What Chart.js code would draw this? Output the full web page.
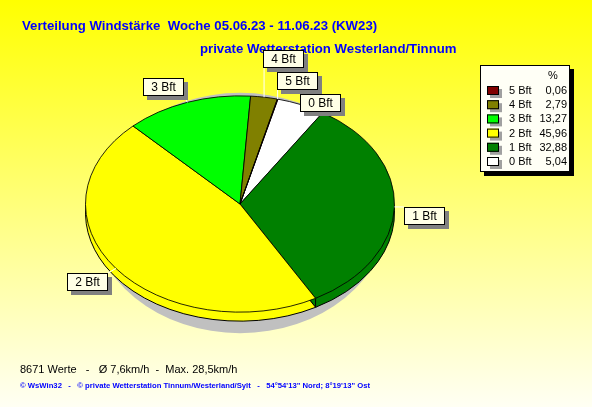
<!DOCTYPE html>
<html>
<head>
<meta charset="utf-8">
<script src="https://cdn.jsdelivr.net/npm/chart.js@4/dist/chart.umd.min.js"></script>
<style>
  html, body { margin: 0; padding: 0; }
  #wrap { width: 592px; height: 407px; position: relative; }
</style>
</head>
<body>
<div id="wrap"><canvas id="chart-1"></canvas></div>
<script>
// legend order (as in the original table)
const categories = ['5 Bft', '4 Bft', '3 Bft', '2 Bft', '1 Bft', '0 Bft'];
const percents = [0.06, 2.79, 13.27, 45.96, 32.88, 5.04];
const colors = ['#800000', '#808000', '#00FF00', '#FFFF00', '#008000', '#FFFFFF'];

const titleText = 'Verteilung Windstärke  Woche 05.06.23 - 11.06.23 (KW23)';
const subtitleText = 'private Wetterstation Westerland/Tinnum';
const footerText = '8671 Werte   -   Ø 7,6km/h  -  Max. 28,5km/h';
const creditText = '© WsWin32   -   © private Wetterstation Tinnum/Westerland/Sylt   -   54°54\'13" Nord; 8°19\'13" Ost';

const tilt = 0.70;   // vertical squash of the pie
const depth = 9;     // side height of the 3d pie

// pie runs clockwise 0 Bft ... 5 Bft
const pieLabels = categories.slice().reverse();
const pieValues = percents.slice().reverse();
const pieColors = colors.slice().reverse();

const fmt = v => v.toFixed(2).replace('.', ',');

const squash = (ctx, cx, cy) => {
  ctx.translate(cx, cy);
  ctx.scale(1, tilt);
  ctx.translate(-cx, -cy);
};

const pie3d = {
  id: 'pie3d',
  beforeDraw(chart) {
    const ctx = chart.ctx;
    const g = ctx.createLinearGradient(0, 0, 0, chart.height);
    g.addColorStop(0, '#FFFF00');
    g.addColorStop(1, '#FFFFF4');
    ctx.save();
    ctx.fillStyle = g;
    ctx.fillRect(0, 0, chart.width, chart.height);
    ctx.restore();
  },
  beforeDatasetsDraw(chart) {
    const ctx = chart.ctx;
    const meta = chart.getDatasetMeta(0);
    const a0 = meta.data[0];
    const cx = a0.x, cy = a0.y, r = a0.outerRadius;
    // shadow
    ctx.save();
    ctx.fillStyle = '#C0C0C0';
    ctx.beginPath();
    ctx.ellipse(cx, cy + depth, r * 0.96, r * tilt + 12, 0, 0, Math.PI * 2);
    ctx.fill();
    ctx.restore();
    // side: every slice once more, lowered by the depth
    ctx.save();
    ctx.lineWidth = 1;
    ctx.strokeStyle = '#000';
    meta.data.forEach((a, i) => {
      ctx.beginPath();
      ctx.moveTo(cx, cy + depth);
      ctx.ellipse(cx, cy + depth, r, r * tilt, 0, a.startAngle, a.endAngle);
      ctx.closePath();
      ctx.fillStyle = pieColors[i];
      ctx.fill();
      ctx.stroke();
    });
    // vertical edges on the visible side
    meta.data.forEach(a => {
      const s = a.startAngle;
      if (Math.sin(s) > 0) {
        const x = cx + r * Math.cos(s), y = cy + r * tilt * Math.sin(s);
        ctx.beginPath();
        ctx.moveTo(x, y);
        ctx.lineTo(x, y + depth);
        ctx.stroke();
      }
    });
    ctx.restore();
    // top face
    ctx.save();
    squash(ctx, cx, cy);
  },
  afterDatasetsDraw(chart) {
    chart.ctx.restore();
  },
  afterDraw(chart) {
    const ctx = chart.ctx;
    const meta = chart.getDatasetMeta(0);
    ctx.save();

    // titles
    ctx.fillStyle = '#0000FF';
    ctx.font = 'bold 13.2px "Liberation Sans", Arial, sans-serif';
    ctx.textBaseline = 'alphabetic';
    ctx.textAlign = 'left';
    ctx.fillText(titleText, 22, 30);
    ctx.fillText(subtitleText, 200, 53);

    // slice labels
    ctx.font = '12px "Liberation Sans", Arial, sans-serif';
    const items = meta.data.map((a, i) => {
      const m = (a.startAngle + a.endAngle) / 2;
      const dx = Math.cos(m), dy = Math.sin(m);
      const r = a.outerRadius;
      const ex = a.x + r * dx, ey = a.y + r * tilt * dy;
      const ax = a.x + (r + 10) * dx, ay = a.y + (r + 10) * tilt * dy;
      const w = Math.round(ctx.measureText(pieLabels[i]).width) + 16, h = 18;
      let left = dx >= 0 ? ax : ax - w;
      let top;
      if (dy > -0.3) top = ay;
      else if (dx >= 0) { top = ey - h / 2 - 2; left = ex - 1; }
      else top = ay - h;
      return { text: pieLabels[i], ex, ey, ay, x: Math.round(left), y: Math.round(top), w, h };
    });
    const placed = [];
    items.slice().sort((p, q) => q.ay - p.ay).forEach(b => {
      let moved = true;
      while (moved) {
        moved = false;
        for (const o of placed) {
          if (b.x < o.x + o.w && b.x + b.w > o.x && b.y < o.y + o.h + 4 && b.y + b.h + 4 > o.y) {
            b.y = o.y - 4 - b.h;
            moved = true;
          }
        }
      }
      placed.push(b);
    });
    items.forEach(b => {
      const nx = Math.min(Math.max(b.ex, b.x), b.x + b.w);
      const ny = Math.min(Math.max(b.ey, b.y), b.y + b.h);
      ctx.strokeStyle = '#FFFFFF';
      ctx.lineWidth = 1;
      ctx.beginPath();
      ctx.moveTo(b.ex, b.ey);
      ctx.lineTo(nx, ny);
      ctx.stroke();
    });
    items.forEach(b => {
      ctx.fillStyle = '#808080';
      ctx.fillRect(b.x + 4, b.y + 4, b.w, b.h);
      ctx.fillStyle = '#FFFFE6';
      ctx.fillRect(b.x, b.y, b.w, b.h);
      ctx.strokeStyle = '#000';
      ctx.strokeRect(b.x + 0.5, b.y + 0.5, b.w - 1, b.h - 1);
      ctx.fillStyle = '#000';
      ctx.textAlign = 'center';
      ctx.textBaseline = 'middle';
      ctx.fillText(b.text, b.x + b.w / 2, b.y + b.h / 2 + 1);
    });

    // legend box
    const lx = 480, ly = 65, lw = 90, lh = 107;
    ctx.fillStyle = '#000';
    ctx.fillRect(lx + 4, ly + 4, lw, lh);
    ctx.fillStyle = '#FFFFF6';
    ctx.fillRect(lx, ly, lw, lh);
    ctx.strokeStyle = '#000';
    ctx.strokeRect(lx + 0.5, ly + 0.5, lw - 1, lh - 1);
    ctx.font = '11px "Liberation Sans", Arial, sans-serif';
    ctx.fillStyle = '#000';
    ctx.textAlign = 'center';
    ctx.textBaseline = 'middle';
    ctx.fillText('%', 553, 76);
    categories.forEach((c, i) => {
      const y = 91 + i * 14.2;
      ctx.fillStyle = '#A0A0A0';
      ctx.fillRect(490, y - 2, 12, 9);
      ctx.fillStyle = colors[i];
      ctx.fillRect(487, y - 5, 12, 9);
      ctx.strokeStyle = '#000';
      ctx.strokeRect(487.5, y - 4.5, 11, 8);
      ctx.fillStyle = '#000';
      ctx.textAlign = 'left';
      ctx.fillText(c, 509, y);
      ctx.textAlign = 'right';
      ctx.fillText(fmt(percents[i]), 567, y);
    });

    // footer
    ctx.textAlign = 'left';
    ctx.textBaseline = 'alphabetic';
    ctx.fillStyle = '#000';
    ctx.font = '11px "Liberation Sans", Arial, sans-serif';
    ctx.fillText(footerText, 20, 373);
    ctx.fillStyle = '#0000FF';
    ctx.font = 'bold 7.7px "Liberation Sans", Arial, sans-serif';
    ctx.fillText(creditText, 20, 388);
    ctx.restore();
  }
};

const renderWindChart = () => {
  const ctx1 = document.getElementById('chart-1').getContext('2d');
  const myChart = new Chart(ctx1, {
    type: 'pie',
    data: {
      labels: pieLabels,
      datasets: [
        {
          data: pieValues,
          backgroundColor: pieColors,
          borderColor: '#000000',
          borderWidth: 1,
          clip: false,
        },
      ],
    },
    options: {
      responsive: true,
      maintainAspectRatio: false,
      animation: false,
      events: [],
      rotation: 14.2,
      layout: { padding: { left: 85, right: 197, top: 49, bottom: 48 } },
      plugins: {
        legend: { display: false },
        tooltip: { enabled: false },
      },
    },
    plugins: [pie3d],
  });
}

renderWindChart()
</script>
</body>
</html>
